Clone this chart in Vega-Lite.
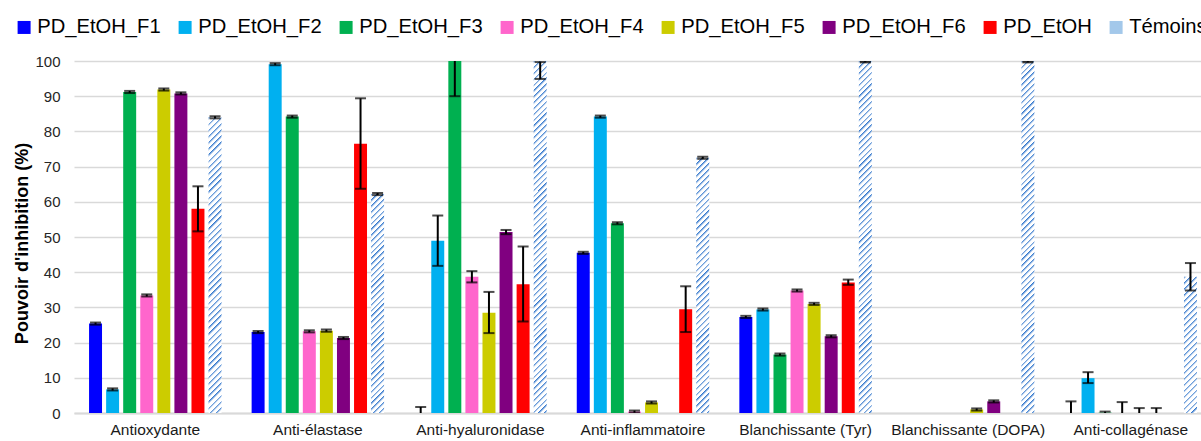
{
"$schema":"https://vega.github.io/schema/vega-lite/v6.json",
"autosize":{"type":"none"},
"width":1127,"height":352,
"padding":{"left":74,"top":61,"right":0,"bottom":28},
"background":"white",
"config":{"view":{"stroke":null},"font":"Liberation Sans",
 "axisX":{"labelAngle":0,"ticks":false,"domainColor":"#d9d9d9","domainWidth":2,"labelFontSize":15.5,"labelColor":"#1a1a1a","labelPadding":9,"grid":false,"labelFont":"Liberation Sans"},
 "axisY":{"grid":true,"gridColor":"#d9d9d9","gridWidth":1.5,"domain":false,"ticks":false,"labelFontSize":15,"labelColor":"#262626","labelPadding":14,"titleFontSize":18,"titleFontWeight":"bold","titleColor":"#000","titlePadding":3,"titleY":182,"tickCount":10,"labelFont":"Liberation Sans","titleFont":"Liberation Sans"}
},
"data":{"values":[
{"cat":"Antioxydante","series":"PD_EtOH_F1","v":25.4,"lo":25.1,"hi":25.7},
{"cat":"Antioxydante","series":"PD_EtOH_F2","v":6.7,"lo":6.4,"hi":7.0},
{"cat":"Antioxydante","series":"PD_EtOH_F3","v":91.2,"lo":90.9,"hi":91.5},
{"cat":"Antioxydante","series":"PD_EtOH_F4","v":33.4,"lo":33.1,"hi":33.7},
{"cat":"Antioxydante","series":"PD_EtOH_F5","v":91.9,"lo":91.6,"hi":92.2},
{"cat":"Antioxydante","series":"PD_EtOH_F6","v":90.8,"lo":90.5,"hi":91.1},
{"cat":"Antioxydante","series":"PD_EtOH","v":58.0,"lo":51.6,"hi":64.4},
{"cat":"Antioxydante","series":"Témoins","v":84.0,"lo":83.7,"hi":84.3},
{"cat":"Anti-élastase","series":"PD_EtOH_F1","v":23.0,"lo":22.7,"hi":23.3},
{"cat":"Anti-élastase","series":"PD_EtOH_F2","v":99.1,"lo":98.8,"hi":99.4},
{"cat":"Anti-élastase","series":"PD_EtOH_F3","v":84.2,"lo":83.9,"hi":84.5},
{"cat":"Anti-élastase","series":"PD_EtOH_F4","v":23.2,"lo":22.9,"hi":23.5},
{"cat":"Anti-élastase","series":"PD_EtOH_F5","v":23.4,"lo":23.1,"hi":23.7},
{"cat":"Anti-élastase","series":"PD_EtOH_F6","v":21.3,"lo":21.0,"hi":21.6},
{"cat":"Anti-élastase","series":"PD_EtOH","v":76.5,"lo":63.7,"hi":89.4},
{"cat":"Anti-élastase","series":"Témoins","v":62.2,"lo":61.9,"hi":62.5},
{"cat":"Anti-hyaluronidase","series":"PD_EtOH_F1","v":0,"lo":0,"hi":1.7},
{"cat":"Anti-hyaluronidase","series":"PD_EtOH_F2","v":48.9,"lo":41.8,"hi":56.1},
{"cat":"Anti-hyaluronidase","series":"PD_EtOH_F3","v":100,"lo":90,"hi":110},
{"cat":"Anti-hyaluronidase","series":"PD_EtOH_F4","v":38.7,"lo":37.1,"hi":40.3},
{"cat":"Anti-hyaluronidase","series":"PD_EtOH_F5","v":28.5,"lo":22.7,"hi":34.4},
{"cat":"Anti-hyaluronidase","series":"PD_EtOH_F6","v":51.4,"lo":50.8,"hi":52.0},
{"cat":"Anti-hyaluronidase","series":"PD_EtOH","v":36.6,"lo":26.0,"hi":47.3},
{"cat":"Anti-hyaluronidase","series":"Témoins","v":100,"lo":94.9,"hi":99.7},
{"cat":"Anti-inflammatoire","series":"PD_EtOH_F1","v":45.5,"lo":45.2,"hi":45.8},
{"cat":"Anti-inflammatoire","series":"PD_EtOH_F2","v":84.2,"lo":83.9,"hi":84.5},
{"cat":"Anti-inflammatoire","series":"PD_EtOH_F3","v":53.9,"lo":53.6,"hi":54.2},
{"cat":"Anti-inflammatoire","series":"PD_EtOH_F4","v":0.4,"lo":0.1,"hi":0.7},
{"cat":"Anti-inflammatoire","series":"PD_EtOH_F5","v":3.0,"lo":2.7,"hi":3.3},
{"cat":"Anti-inflammatoire","series":"PD_EtOH_F6","v":0,"lo":null,"hi":null},
{"cat":"Anti-inflammatoire","series":"PD_EtOH","v":29.5,"lo":23.0,"hi":36.0},
{"cat":"Anti-inflammatoire","series":"Témoins","v":72.5,"lo":72.2,"hi":72.8},
{"cat":"Blanchissante (Tyr)","series":"PD_EtOH_F1","v":27.3,"lo":27.0,"hi":27.6},
{"cat":"Blanchissante (Tyr)","series":"PD_EtOH_F2","v":29.4,"lo":29.1,"hi":29.7},
{"cat":"Blanchissante (Tyr)","series":"PD_EtOH_F3","v":16.6,"lo":16.3,"hi":16.9},
{"cat":"Blanchissante (Tyr)","series":"PD_EtOH_F4","v":34.8,"lo":34.5,"hi":35.1},
{"cat":"Blanchissante (Tyr)","series":"PD_EtOH_F5","v":31.0,"lo":30.7,"hi":31.3},
{"cat":"Blanchissante (Tyr)","series":"PD_EtOH_F6","v":21.8,"lo":21.5,"hi":22.1},
{"cat":"Blanchissante (Tyr)","series":"PD_EtOH","v":37.1,"lo":36.4,"hi":37.9},
{"cat":"Blanchissante (Tyr)","series":"Témoins","v":100,"lo":99.6,"hi":99.9},
{"cat":"Blanchissante (DOPA)","series":"PD_EtOH_F1","v":0,"lo":null,"hi":null},
{"cat":"Blanchissante (DOPA)","series":"PD_EtOH_F2","v":0,"lo":null,"hi":null},
{"cat":"Blanchissante (DOPA)","series":"PD_EtOH_F3","v":0,"lo":null,"hi":null},
{"cat":"Blanchissante (DOPA)","series":"PD_EtOH_F4","v":0,"lo":null,"hi":null},
{"cat":"Blanchissante (DOPA)","series":"PD_EtOH_F5","v":1.0,"lo":0.7,"hi":1.3},
{"cat":"Blanchissante (DOPA)","series":"PD_EtOH_F6","v":3.3,"lo":3.0,"hi":3.6},
{"cat":"Blanchissante (DOPA)","series":"PD_EtOH","v":0,"lo":null,"hi":null},
{"cat":"Blanchissante (DOPA)","series":"Témoins","v":100,"lo":99.6,"hi":99.9},
{"cat":"Anti-collagénase","series":"PD_EtOH_F1","v":0,"lo":0,"hi":3.3},
{"cat":"Anti-collagénase","series":"PD_EtOH_F2","v":9.9,"lo":8.5,"hi":11.6},
{"cat":"Anti-collagénase","series":"PD_EtOH_F3","v":0.1,"lo":0,"hi":0.4},
{"cat":"Anti-collagénase","series":"PD_EtOH_F4","v":0,"lo":0,"hi":3.1},
{"cat":"Anti-collagénase","series":"PD_EtOH_F5","v":0,"lo":0,"hi":1.4},
{"cat":"Anti-collagénase","series":"PD_EtOH_F6","v":0,"lo":0,"hi":1.4},
{"cat":"Anti-collagénase","series":"PD_EtOH","v":0,"lo":null,"hi":null},
{"cat":"Anti-collagénase","series":"Témoins","v":38.7,"lo":34.8,"hi":42.6}
]},
"encoding":{
 "x":{"field":"cat","type":"nominal","title":null,"sort":["Antioxydante","Anti-élastase","Anti-hyaluronidase","Anti-inflammatoire","Blanchissante (Tyr)","Blanchissante (DOPA)","Anti-collagénase"],"scale":{"range":[0,1138],"paddingInner":0.16,"paddingOuter":0.08}},
 "xOffset":{"field":"series","type":"nominal","sort":["PD_EtOH_F1","PD_EtOH_F2","PD_EtOH_F3","PD_EtOH_F4","PD_EtOH_F5","PD_EtOH_F6","PD_EtOH","Témoins"],"scale":{"paddingInner":0.24,"paddingOuter":0.12}}
},
"layer":[
 {"mark":{"type":"bar"},
  "encoding":{
   "y":{"field":"v","type":"quantitative","title":"Pouvoir d'inhibition (%)","scale":{"domain":[0,100],"nice":false}},
   "fill":{"field":"series","type":"nominal",
    "scale":{"domain":["PD_EtOH_F1","PD_EtOH_F2","PD_EtOH_F3","PD_EtOH_F4","PD_EtOH_F5","PD_EtOH_F6","PD_EtOH","Témoins"],"range":["#0000ff","#00b0f0","#00b050","#ff66cc","#cccc00","#800080","#ff0000","#a3c8ea"]},
    "legend":{"orient":"none","legendX":-60,"legendY":-44,"direction":"horizontal","columns":8,"title":null,"symbolType":"square","symbolSize":169,"symbolStrokeWidth":0,"labelFontSize":20.2,"labelFont":"Liberation Sans","labelColor":"#000","labelOffset":3,"columnPadding":14,"padding":0,"labelLimit":300},
    "condition":[
     {"test":"datum.series === 'Témoins' && datum.v === 100","value":{"gradient":"linear","x1":0,"y1":0,"x2":0.0382,"y2":1.0355,"stops":[
{"offset":0,"color":"#37c"},{"offset":0.008,"color":"#fff"},{"offset":0.016,"color":"#fff"},{"offset":0.016,"color":"#37c"},{"offset":0.024,"color":"#fff"},{"offset":0.032,"color":"#fff"},{"offset":0.032,"color":"#37c"},{"offset":0.04,"color":"#fff"},{"offset":0.048,"color":"#fff"},{"offset":0.048,"color":"#37c"},{"offset":0.056,"color":"#fff"},{"offset":0.064,"color":"#fff"},{"offset":0.064,"color":"#37c"},{"offset":0.072,"color":"#fff"},{"offset":0.08,"color":"#fff"},{"offset":0.08,"color":"#37c"},{"offset":0.088,"color":"#fff"},{"offset":0.096,"color":"#fff"},{"offset":0.096,"color":"#37c"},{"offset":0.104,"color":"#fff"},{"offset":0.112,"color":"#fff"},{"offset":0.112,"color":"#37c"},{"offset":0.12,"color":"#fff"},{"offset":0.128,"color":"#fff"},{"offset":0.128,"color":"#37c"},{"offset":0.136,"color":"#fff"},{"offset":0.144,"color":"#fff"},{"offset":0.144,"color":"#37c"},{"offset":0.152,"color":"#fff"},{"offset":0.16,"color":"#fff"},{"offset":0.16,"color":"#37c"},{"offset":0.168,"color":"#fff"},{"offset":0.176,"color":"#fff"},{"offset":0.176,"color":"#37c"},{"offset":0.184,"color":"#fff"},{"offset":0.192,"color":"#fff"},{"offset":0.192,"color":"#37c"},{"offset":0.2,"color":"#fff"},{"offset":0.208,"color":"#fff"},{"offset":0.208,"color":"#37c"},{"offset":0.216,"color":"#fff"},{"offset":0.224,"color":"#fff"},{"offset":0.224,"color":"#37c"},{"offset":0.232,"color":"#fff"},{"offset":0.24,"color":"#fff"},{"offset":0.24,"color":"#37c"},{"offset":0.248,"color":"#fff"},{"offset":0.256,"color":"#fff"},{"offset":0.256,"color":"#37c"},{"offset":0.264,"color":"#fff"},{"offset":0.272,"color":"#fff"},{"offset":0.272,"color":"#37c"},{"offset":0.28,"color":"#fff"},{"offset":0.288,"color":"#fff"},{"offset":0.288,"color":"#37c"},{"offset":0.296,"color":"#fff"},{"offset":0.304,"color":"#fff"},{"offset":0.304,"color":"#37c"},{"offset":0.312,"color":"#fff"},{"offset":0.32,"color":"#fff"},{"offset":0.32,"color":"#37c"},{"offset":0.328,"color":"#fff"},{"offset":0.336,"color":"#fff"},{"offset":0.336,"color":"#37c"},{"offset":0.344,"color":"#fff"},{"offset":0.352,"color":"#fff"},{"offset":0.352,"color":"#37c"},{"offset":0.36,"color":"#fff"},{"offset":0.368,"color":"#fff"},{"offset":0.368,"color":"#37c"},{"offset":0.376,"color":"#fff"},{"offset":0.384,"color":"#fff"},{"offset":0.384,"color":"#37c"},{"offset":0.392,"color":"#fff"},{"offset":0.4,"color":"#fff"},{"offset":0.4,"color":"#37c"},{"offset":0.408,"color":"#fff"},{"offset":0.416,"color":"#fff"},{"offset":0.416,"color":"#37c"},{"offset":0.424,"color":"#fff"},{"offset":0.432,"color":"#fff"},{"offset":0.432,"color":"#37c"},{"offset":0.44,"color":"#fff"},{"offset":0.448,"color":"#fff"},{"offset":0.448,"color":"#37c"},{"offset":0.456,"color":"#fff"},{"offset":0.464,"color":"#fff"},{"offset":0.464,"color":"#37c"},{"offset":0.472,"color":"#fff"},{"offset":0.48,"color":"#fff"},{"offset":0.48,"color":"#37c"},{"offset":0.488,"color":"#fff"},{"offset":0.496,"color":"#fff"},{"offset":0.496,"color":"#37c"},{"offset":0.504,"color":"#fff"},{"offset":0.512,"color":"#fff"},{"offset":0.512,"color":"#37c"},{"offset":0.52,"color":"#fff"},{"offset":0.528,"color":"#fff"},{"offset":0.528,"color":"#37c"},{"offset":0.536,"color":"#fff"},{"offset":0.544,"color":"#fff"},{"offset":0.544,"color":"#37c"},{"offset":0.552,"color":"#fff"},{"offset":0.56,"color":"#fff"},{"offset":0.56,"color":"#37c"},{"offset":0.568,"color":"#fff"},{"offset":0.576,"color":"#fff"},{"offset":0.576,"color":"#37c"},{"offset":0.584,"color":"#fff"},{"offset":0.592,"color":"#fff"},{"offset":0.592,"color":"#37c"},{"offset":0.6,"color":"#fff"},{"offset":0.608,"color":"#fff"},{"offset":0.608,"color":"#37c"},{"offset":0.616,"color":"#fff"},{"offset":0.624,"color":"#fff"},{"offset":0.624,"color":"#37c"},{"offset":0.632,"color":"#fff"},{"offset":0.64,"color":"#fff"},{"offset":0.64,"color":"#37c"},{"offset":0.648,"color":"#fff"},{"offset":0.656,"color":"#fff"},{"offset":0.656,"color":"#37c"},{"offset":0.664,"color":"#fff"},{"offset":0.672,"color":"#fff"},{"offset":0.672,"color":"#37c"},{"offset":0.68,"color":"#fff"},{"offset":0.688,"color":"#fff"},{"offset":0.688,"color":"#37c"},{"offset":0.696,"color":"#fff"},{"offset":0.704,"color":"#fff"},{"offset":0.704,"color":"#37c"},{"offset":0.712,"color":"#fff"},{"offset":0.72,"color":"#fff"},{"offset":0.72,"color":"#37c"},{"offset":0.728,"color":"#fff"},{"offset":0.736,"color":"#fff"},{"offset":0.736,"color":"#37c"},{"offset":0.744,"color":"#fff"},{"offset":0.752,"color":"#fff"},{"offset":0.752,"color":"#37c"},{"offset":0.76,"color":"#fff"},{"offset":0.768,"color":"#fff"},{"offset":0.768,"color":"#37c"},{"offset":0.776,"color":"#fff"},{"offset":0.784,"color":"#fff"},{"offset":0.784,"color":"#37c"},{"offset":0.792,"color":"#fff"},{"offset":0.8,"color":"#fff"},{"offset":0.8,"color":"#37c"},{"offset":0.808,"color":"#fff"},{"offset":0.816,"color":"#fff"},{"offset":0.816,"color":"#37c"},{"offset":0.824,"color":"#fff"},{"offset":0.832,"color":"#fff"},{"offset":0.832,"color":"#37c"},{"offset":0.84,"color":"#fff"},{"offset":0.848,"color":"#fff"},{"offset":0.848,"color":"#37c"},{"offset":0.856,"color":"#fff"},{"offset":0.864,"color":"#fff"},{"offset":0.864,"color":"#37c"},{"offset":0.872,"color":"#fff"},{"offset":0.88,"color":"#fff"},{"offset":0.88,"color":"#37c"},{"offset":0.888,"color":"#fff"},{"offset":0.896,"color":"#fff"},{"offset":0.896,"color":"#37c"},{"offset":0.904,"color":"#fff"},{"offset":0.912,"color":"#fff"},{"offset":0.912,"color":"#37c"},{"offset":0.92,"color":"#fff"},{"offset":0.928,"color":"#fff"},{"offset":0.928,"color":"#37c"},{"offset":0.936,"color":"#fff"},{"offset":0.944,"color":"#fff"},{"offset":0.944,"color":"#37c"},{"offset":0.952,"color":"#fff"},{"offset":0.96,"color":"#fff"},{"offset":0.96,"color":"#37c"},{"offset":0.968,"color":"#fff"},{"offset":0.976,"color":"#fff"},{"offset":0.976,"color":"#37c"},{"offset":0.984,"color":"#fff"},{"offset":0.992,"color":"#fff"},{"offset":0.992,"color":"#37c"},{"offset":1,"color":"#fff"}]}},
     {"test":"datum.series === 'Témoins' && datum.cat === 'Antioxydante'","value":{"gradient":"linear","x1":0,"y1":0,"x2":0.0458,"y2":1.042,"stops":[
{"offset":0,"color":"#37c"},{"offset":0.01,"color":"#fff"},{"offset":0.02,"color":"#fff"},{"offset":0.02,"color":"#37c"},{"offset":0.03,"color":"#fff"},{"offset":0.04,"color":"#fff"},{"offset":0.04,"color":"#37c"},{"offset":0.05,"color":"#fff"},{"offset":0.06,"color":"#fff"},{"offset":0.06,"color":"#37c"},{"offset":0.07,"color":"#fff"},{"offset":0.08,"color":"#fff"},{"offset":0.08,"color":"#37c"},{"offset":0.09,"color":"#fff"},{"offset":0.1,"color":"#fff"},{"offset":0.1,"color":"#37c"},{"offset":0.11,"color":"#fff"},{"offset":0.12,"color":"#fff"},{"offset":0.12,"color":"#37c"},{"offset":0.13,"color":"#fff"},{"offset":0.14,"color":"#fff"},{"offset":0.14,"color":"#37c"},{"offset":0.15,"color":"#fff"},{"offset":0.16,"color":"#fff"},{"offset":0.16,"color":"#37c"},{"offset":0.17,"color":"#fff"},{"offset":0.18,"color":"#fff"},{"offset":0.18,"color":"#37c"},{"offset":0.19,"color":"#fff"},{"offset":0.2,"color":"#fff"},{"offset":0.2,"color":"#37c"},{"offset":0.21,"color":"#fff"},{"offset":0.22,"color":"#fff"},{"offset":0.22,"color":"#37c"},{"offset":0.23,"color":"#fff"},{"offset":0.24,"color":"#fff"},{"offset":0.24,"color":"#37c"},{"offset":0.25,"color":"#fff"},{"offset":0.26,"color":"#fff"},{"offset":0.26,"color":"#37c"},{"offset":0.27,"color":"#fff"},{"offset":0.28,"color":"#fff"},{"offset":0.28,"color":"#37c"},{"offset":0.29,"color":"#fff"},{"offset":0.3,"color":"#fff"},{"offset":0.3,"color":"#37c"},{"offset":0.31,"color":"#fff"},{"offset":0.32,"color":"#fff"},{"offset":0.32,"color":"#37c"},{"offset":0.33,"color":"#fff"},{"offset":0.34,"color":"#fff"},{"offset":0.34,"color":"#37c"},{"offset":0.35,"color":"#fff"},{"offset":0.36,"color":"#fff"},{"offset":0.36,"color":"#37c"},{"offset":0.37,"color":"#fff"},{"offset":0.38,"color":"#fff"},{"offset":0.38,"color":"#37c"},{"offset":0.39,"color":"#fff"},{"offset":0.4,"color":"#fff"},{"offset":0.4,"color":"#37c"},{"offset":0.41,"color":"#fff"},{"offset":0.42,"color":"#fff"},{"offset":0.42,"color":"#37c"},{"offset":0.43,"color":"#fff"},{"offset":0.44,"color":"#fff"},{"offset":0.44,"color":"#37c"},{"offset":0.45,"color":"#fff"},{"offset":0.46,"color":"#fff"},{"offset":0.46,"color":"#37c"},{"offset":0.47,"color":"#fff"},{"offset":0.48,"color":"#fff"},{"offset":0.48,"color":"#37c"},{"offset":0.49,"color":"#fff"},{"offset":0.5,"color":"#fff"},{"offset":0.5,"color":"#37c"},{"offset":0.51,"color":"#fff"},{"offset":0.52,"color":"#fff"},{"offset":0.52,"color":"#37c"},{"offset":0.53,"color":"#fff"},{"offset":0.54,"color":"#fff"},{"offset":0.54,"color":"#37c"},{"offset":0.55,"color":"#fff"},{"offset":0.56,"color":"#fff"},{"offset":0.56,"color":"#37c"},{"offset":0.57,"color":"#fff"},{"offset":0.58,"color":"#fff"},{"offset":0.58,"color":"#37c"},{"offset":0.59,"color":"#fff"},{"offset":0.6,"color":"#fff"},{"offset":0.6,"color":"#37c"},{"offset":0.61,"color":"#fff"},{"offset":0.62,"color":"#fff"},{"offset":0.62,"color":"#37c"},{"offset":0.63,"color":"#fff"},{"offset":0.64,"color":"#fff"},{"offset":0.64,"color":"#37c"},{"offset":0.65,"color":"#fff"},{"offset":0.66,"color":"#fff"},{"offset":0.66,"color":"#37c"},{"offset":0.67,"color":"#fff"},{"offset":0.68,"color":"#fff"},{"offset":0.68,"color":"#37c"},{"offset":0.69,"color":"#fff"},{"offset":0.7,"color":"#fff"},{"offset":0.7,"color":"#37c"},{"offset":0.71,"color":"#fff"},{"offset":0.72,"color":"#fff"},{"offset":0.72,"color":"#37c"},{"offset":0.73,"color":"#fff"},{"offset":0.74,"color":"#fff"},{"offset":0.74,"color":"#37c"},{"offset":0.75,"color":"#fff"},{"offset":0.76,"color":"#fff"},{"offset":0.76,"color":"#37c"},{"offset":0.77,"color":"#fff"},{"offset":0.78,"color":"#fff"},{"offset":0.78,"color":"#37c"},{"offset":0.79,"color":"#fff"},{"offset":0.8,"color":"#fff"},{"offset":0.8,"color":"#37c"},{"offset":0.81,"color":"#fff"},{"offset":0.82,"color":"#fff"},{"offset":0.82,"color":"#37c"},{"offset":0.83,"color":"#fff"},{"offset":0.84,"color":"#fff"},{"offset":0.84,"color":"#37c"},{"offset":0.85,"color":"#fff"},{"offset":0.86,"color":"#fff"},{"offset":0.86,"color":"#37c"},{"offset":0.87,"color":"#fff"},{"offset":0.88,"color":"#fff"},{"offset":0.88,"color":"#37c"},{"offset":0.89,"color":"#fff"},{"offset":0.9,"color":"#fff"},{"offset":0.9,"color":"#37c"},{"offset":0.91,"color":"#fff"},{"offset":0.92,"color":"#fff"},{"offset":0.92,"color":"#37c"},{"offset":0.93,"color":"#fff"},{"offset":0.94,"color":"#fff"},{"offset":0.94,"color":"#37c"},{"offset":0.95,"color":"#fff"},{"offset":0.96,"color":"#fff"},{"offset":0.96,"color":"#37c"},{"offset":0.97,"color":"#fff"},{"offset":0.98,"color":"#fff"},{"offset":0.98,"color":"#37c"},{"offset":0.99,"color":"#fff"},{"offset":1,"color":"#fff"}]}},
     {"test":"datum.series === 'Témoins' && datum.cat === 'Anti-élastase'","value":{"gradient":"linear","x1":0,"y1":0,"x2":0.0627,"y2":1.0557,"stops":[
{"offset":0,"color":"#37c"},{"offset":0.0125,"color":"#fff"},{"offset":0.025,"color":"#fff"},{"offset":0.025,"color":"#37c"},{"offset":0.0375,"color":"#fff"},{"offset":0.05,"color":"#fff"},{"offset":0.05,"color":"#37c"},{"offset":0.0625,"color":"#fff"},{"offset":0.075,"color":"#fff"},{"offset":0.075,"color":"#37c"},{"offset":0.0875,"color":"#fff"},{"offset":0.1,"color":"#fff"},{"offset":0.1,"color":"#37c"},{"offset":0.1125,"color":"#fff"},{"offset":0.125,"color":"#fff"},{"offset":0.125,"color":"#37c"},{"offset":0.1375,"color":"#fff"},{"offset":0.15,"color":"#fff"},{"offset":0.15,"color":"#37c"},{"offset":0.1625,"color":"#fff"},{"offset":0.175,"color":"#fff"},{"offset":0.175,"color":"#37c"},{"offset":0.1875,"color":"#fff"},{"offset":0.2,"color":"#fff"},{"offset":0.2,"color":"#37c"},{"offset":0.2125,"color":"#fff"},{"offset":0.225,"color":"#fff"},{"offset":0.225,"color":"#37c"},{"offset":0.2375,"color":"#fff"},{"offset":0.25,"color":"#fff"},{"offset":0.25,"color":"#37c"},{"offset":0.2625,"color":"#fff"},{"offset":0.275,"color":"#fff"},{"offset":0.275,"color":"#37c"},{"offset":0.2875,"color":"#fff"},{"offset":0.3,"color":"#fff"},{"offset":0.3,"color":"#37c"},{"offset":0.3125,"color":"#fff"},{"offset":0.325,"color":"#fff"},{"offset":0.325,"color":"#37c"},{"offset":0.3375,"color":"#fff"},{"offset":0.35,"color":"#fff"},{"offset":0.35,"color":"#37c"},{"offset":0.3625,"color":"#fff"},{"offset":0.375,"color":"#fff"},{"offset":0.375,"color":"#37c"},{"offset":0.3875,"color":"#fff"},{"offset":0.4,"color":"#fff"},{"offset":0.4,"color":"#37c"},{"offset":0.4125,"color":"#fff"},{"offset":0.425,"color":"#fff"},{"offset":0.425,"color":"#37c"},{"offset":0.4375,"color":"#fff"},{"offset":0.45,"color":"#fff"},{"offset":0.45,"color":"#37c"},{"offset":0.4625,"color":"#fff"},{"offset":0.475,"color":"#fff"},{"offset":0.475,"color":"#37c"},{"offset":0.4875,"color":"#fff"},{"offset":0.5,"color":"#fff"},{"offset":0.5,"color":"#37c"},{"offset":0.5125,"color":"#fff"},{"offset":0.525,"color":"#fff"},{"offset":0.525,"color":"#37c"},{"offset":0.5375,"color":"#fff"},{"offset":0.55,"color":"#fff"},{"offset":0.55,"color":"#37c"},{"offset":0.5625,"color":"#fff"},{"offset":0.575,"color":"#fff"},{"offset":0.575,"color":"#37c"},{"offset":0.5875,"color":"#fff"},{"offset":0.6,"color":"#fff"},{"offset":0.6,"color":"#37c"},{"offset":0.6125,"color":"#fff"},{"offset":0.625,"color":"#fff"},{"offset":0.625,"color":"#37c"},{"offset":0.6375,"color":"#fff"},{"offset":0.65,"color":"#fff"},{"offset":0.65,"color":"#37c"},{"offset":0.6625,"color":"#fff"},{"offset":0.675,"color":"#fff"},{"offset":0.675,"color":"#37c"},{"offset":0.6875,"color":"#fff"},{"offset":0.7,"color":"#fff"},{"offset":0.7,"color":"#37c"},{"offset":0.7125,"color":"#fff"},{"offset":0.725,"color":"#fff"},{"offset":0.725,"color":"#37c"},{"offset":0.7375,"color":"#fff"},{"offset":0.75,"color":"#fff"},{"offset":0.75,"color":"#37c"},{"offset":0.7625,"color":"#fff"},{"offset":0.775,"color":"#fff"},{"offset":0.775,"color":"#37c"},{"offset":0.7875,"color":"#fff"},{"offset":0.8,"color":"#fff"},{"offset":0.8,"color":"#37c"},{"offset":0.8125,"color":"#fff"},{"offset":0.825,"color":"#fff"},{"offset":0.825,"color":"#37c"},{"offset":0.8375,"color":"#fff"},{"offset":0.85,"color":"#fff"},{"offset":0.85,"color":"#37c"},{"offset":0.8625,"color":"#fff"},{"offset":0.875,"color":"#fff"},{"offset":0.875,"color":"#37c"},{"offset":0.8875,"color":"#fff"},{"offset":0.9,"color":"#fff"},{"offset":0.9,"color":"#37c"},{"offset":0.9125,"color":"#fff"},{"offset":0.925,"color":"#fff"},{"offset":0.925,"color":"#37c"},{"offset":0.9375,"color":"#fff"},{"offset":0.95,"color":"#fff"},{"offset":0.95,"color":"#37c"},{"offset":0.9625,"color":"#fff"},{"offset":0.975,"color":"#fff"},{"offset":0.975,"color":"#37c"},{"offset":0.9875,"color":"#fff"},{"offset":1,"color":"#fff"}]}},
     {"test":"datum.series === 'Témoins' && datum.cat === 'Anti-inflammatoire'","value":{"gradient":"linear","x1":0,"y1":0,"x2":0.0534,"y2":1.0482,"stops":[
{"offset":0,"color":"#37c"},{"offset":0.011,"color":"#fff"},{"offset":0.022,"color":"#fff"},{"offset":0.022,"color":"#37c"},{"offset":0.033,"color":"#fff"},{"offset":0.044,"color":"#fff"},{"offset":0.044,"color":"#37c"},{"offset":0.055,"color":"#fff"},{"offset":0.066,"color":"#fff"},{"offset":0.066,"color":"#37c"},{"offset":0.077,"color":"#fff"},{"offset":0.088,"color":"#fff"},{"offset":0.088,"color":"#37c"},{"offset":0.099,"color":"#fff"},{"offset":0.11,"color":"#fff"},{"offset":0.11,"color":"#37c"},{"offset":0.121,"color":"#fff"},{"offset":0.132,"color":"#fff"},{"offset":0.132,"color":"#37c"},{"offset":0.143,"color":"#fff"},{"offset":0.154,"color":"#fff"},{"offset":0.154,"color":"#37c"},{"offset":0.165,"color":"#fff"},{"offset":0.176,"color":"#fff"},{"offset":0.176,"color":"#37c"},{"offset":0.187,"color":"#fff"},{"offset":0.198,"color":"#fff"},{"offset":0.198,"color":"#37c"},{"offset":0.209,"color":"#fff"},{"offset":0.22,"color":"#fff"},{"offset":0.22,"color":"#37c"},{"offset":0.231,"color":"#fff"},{"offset":0.242,"color":"#fff"},{"offset":0.242,"color":"#37c"},{"offset":0.253,"color":"#fff"},{"offset":0.264,"color":"#fff"},{"offset":0.264,"color":"#37c"},{"offset":0.275,"color":"#fff"},{"offset":0.286,"color":"#fff"},{"offset":0.286,"color":"#37c"},{"offset":0.297,"color":"#fff"},{"offset":0.308,"color":"#fff"},{"offset":0.308,"color":"#37c"},{"offset":0.319,"color":"#fff"},{"offset":0.33,"color":"#fff"},{"offset":0.33,"color":"#37c"},{"offset":0.341,"color":"#fff"},{"offset":0.352,"color":"#fff"},{"offset":0.352,"color":"#37c"},{"offset":0.363,"color":"#fff"},{"offset":0.374,"color":"#fff"},{"offset":0.374,"color":"#37c"},{"offset":0.385,"color":"#fff"},{"offset":0.396,"color":"#fff"},{"offset":0.396,"color":"#37c"},{"offset":0.407,"color":"#fff"},{"offset":0.418,"color":"#fff"},{"offset":0.418,"color":"#37c"},{"offset":0.429,"color":"#fff"},{"offset":0.44,"color":"#fff"},{"offset":0.44,"color":"#37c"},{"offset":0.451,"color":"#fff"},{"offset":0.462,"color":"#fff"},{"offset":0.462,"color":"#37c"},{"offset":0.473,"color":"#fff"},{"offset":0.484,"color":"#fff"},{"offset":0.484,"color":"#37c"},{"offset":0.495,"color":"#fff"},{"offset":0.506,"color":"#fff"},{"offset":0.506,"color":"#37c"},{"offset":0.517,"color":"#fff"},{"offset":0.528,"color":"#fff"},{"offset":0.528,"color":"#37c"},{"offset":0.539,"color":"#fff"},{"offset":0.55,"color":"#fff"},{"offset":0.55,"color":"#37c"},{"offset":0.561,"color":"#fff"},{"offset":0.572,"color":"#fff"},{"offset":0.572,"color":"#37c"},{"offset":0.583,"color":"#fff"},{"offset":0.594,"color":"#fff"},{"offset":0.594,"color":"#37c"},{"offset":0.605,"color":"#fff"},{"offset":0.616,"color":"#fff"},{"offset":0.616,"color":"#37c"},{"offset":0.627,"color":"#fff"},{"offset":0.638,"color":"#fff"},{"offset":0.638,"color":"#37c"},{"offset":0.649,"color":"#fff"},{"offset":0.66,"color":"#fff"},{"offset":0.66,"color":"#37c"},{"offset":0.671,"color":"#fff"},{"offset":0.682,"color":"#fff"},{"offset":0.682,"color":"#37c"},{"offset":0.693,"color":"#fff"},{"offset":0.704,"color":"#fff"},{"offset":0.704,"color":"#37c"},{"offset":0.715,"color":"#fff"},{"offset":0.726,"color":"#fff"},{"offset":0.726,"color":"#37c"},{"offset":0.737,"color":"#fff"},{"offset":0.748,"color":"#fff"},{"offset":0.748,"color":"#37c"},{"offset":0.759,"color":"#fff"},{"offset":0.77,"color":"#fff"},{"offset":0.77,"color":"#37c"},{"offset":0.781,"color":"#fff"},{"offset":0.792,"color":"#fff"},{"offset":0.792,"color":"#37c"},{"offset":0.803,"color":"#fff"},{"offset":0.814,"color":"#fff"},{"offset":0.814,"color":"#37c"},{"offset":0.825,"color":"#fff"},{"offset":0.836,"color":"#fff"},{"offset":0.836,"color":"#37c"},{"offset":0.847,"color":"#fff"},{"offset":0.858,"color":"#fff"},{"offset":0.858,"color":"#37c"},{"offset":0.869,"color":"#fff"},{"offset":0.88,"color":"#fff"},{"offset":0.88,"color":"#37c"},{"offset":0.891,"color":"#fff"},{"offset":0.902,"color":"#fff"},{"offset":0.902,"color":"#37c"},{"offset":0.913,"color":"#fff"},{"offset":0.924,"color":"#fff"},{"offset":0.924,"color":"#37c"},{"offset":0.935,"color":"#fff"},{"offset":0.946,"color":"#fff"},{"offset":0.946,"color":"#37c"},{"offset":0.957,"color":"#fff"},{"offset":0.968,"color":"#fff"},{"offset":0.968,"color":"#37c"},{"offset":0.979,"color":"#fff"},{"offset":0.99,"color":"#fff"},{"offset":0.99,"color":"#37c"},{"offset":1,"color":"#fff"}]}},
     {"test":"datum.series === 'Témoins' && datum.cat === 'Anti-collagénase'","value":{"gradient":"linear","x1":0,"y1":0,"x2":0.1036,"y2":1.0855,"stops":[
{"offset":0,"color":"#37c"},{"offset":0.02,"color":"#fff"},{"offset":0.04,"color":"#fff"},{"offset":0.04,"color":"#37c"},{"offset":0.06,"color":"#fff"},{"offset":0.08,"color":"#fff"},{"offset":0.08,"color":"#37c"},{"offset":0.1,"color":"#fff"},{"offset":0.12,"color":"#fff"},{"offset":0.12,"color":"#37c"},{"offset":0.14,"color":"#fff"},{"offset":0.16,"color":"#fff"},{"offset":0.16,"color":"#37c"},{"offset":0.18,"color":"#fff"},{"offset":0.2,"color":"#fff"},{"offset":0.2,"color":"#37c"},{"offset":0.22,"color":"#fff"},{"offset":0.24,"color":"#fff"},{"offset":0.24,"color":"#37c"},{"offset":0.26,"color":"#fff"},{"offset":0.28,"color":"#fff"},{"offset":0.28,"color":"#37c"},{"offset":0.3,"color":"#fff"},{"offset":0.32,"color":"#fff"},{"offset":0.32,"color":"#37c"},{"offset":0.34,"color":"#fff"},{"offset":0.36,"color":"#fff"},{"offset":0.36,"color":"#37c"},{"offset":0.38,"color":"#fff"},{"offset":0.4,"color":"#fff"},{"offset":0.4,"color":"#37c"},{"offset":0.42,"color":"#fff"},{"offset":0.44,"color":"#fff"},{"offset":0.44,"color":"#37c"},{"offset":0.46,"color":"#fff"},{"offset":0.48,"color":"#fff"},{"offset":0.48,"color":"#37c"},{"offset":0.5,"color":"#fff"},{"offset":0.52,"color":"#fff"},{"offset":0.52,"color":"#37c"},{"offset":0.54,"color":"#fff"},{"offset":0.56,"color":"#fff"},{"offset":0.56,"color":"#37c"},{"offset":0.58,"color":"#fff"},{"offset":0.6,"color":"#fff"},{"offset":0.6,"color":"#37c"},{"offset":0.62,"color":"#fff"},{"offset":0.64,"color":"#fff"},{"offset":0.64,"color":"#37c"},{"offset":0.66,"color":"#fff"},{"offset":0.68,"color":"#fff"},{"offset":0.68,"color":"#37c"},{"offset":0.7,"color":"#fff"},{"offset":0.72,"color":"#fff"},{"offset":0.72,"color":"#37c"},{"offset":0.74,"color":"#fff"},{"offset":0.76,"color":"#fff"},{"offset":0.76,"color":"#37c"},{"offset":0.78,"color":"#fff"},{"offset":0.8,"color":"#fff"},{"offset":0.8,"color":"#37c"},{"offset":0.82,"color":"#fff"},{"offset":0.84,"color":"#fff"},{"offset":0.84,"color":"#37c"},{"offset":0.86,"color":"#fff"},{"offset":0.88,"color":"#fff"},{"offset":0.88,"color":"#37c"},{"offset":0.9,"color":"#fff"},{"offset":0.92,"color":"#fff"},{"offset":0.92,"color":"#37c"},{"offset":0.94,"color":"#fff"},{"offset":0.96,"color":"#fff"},{"offset":0.96,"color":"#37c"},{"offset":0.98,"color":"#fff"},{"offset":1,"color":"#fff"}]}}
    ]}
  }},
 {"transform":[{"filter":"datum.hi != null"}],
  "mark":{"type":"rule","color":"black","strokeWidth":2,"clip":true},
  "encoding":{"y":{"field":"lo","type":"quantitative","title":"Pouvoir d'inhibition (%)","scale":{"domain":[0,100],"nice":false}},"y2":{"field":"hi"}}},
 {"transform":[{"filter":"datum.hi != null"}],
  "mark":{"type":"tick","color":"black","thickness":2,"size":11,"clip":true},
  "encoding":{"y":{"field":"hi","type":"quantitative","title":"Pouvoir d'inhibition (%)","scale":{"domain":[0,100],"nice":false}}}},
 {"transform":[{"filter":"datum.hi != null && datum.lo > 0"}],
  "mark":{"type":"tick","color":"black","thickness":2,"size":11,"clip":true},
  "encoding":{"y":{"field":"lo","type":"quantitative","title":"Pouvoir d'inhibition (%)","scale":{"domain":[0,100],"nice":false}}}}
]
}
